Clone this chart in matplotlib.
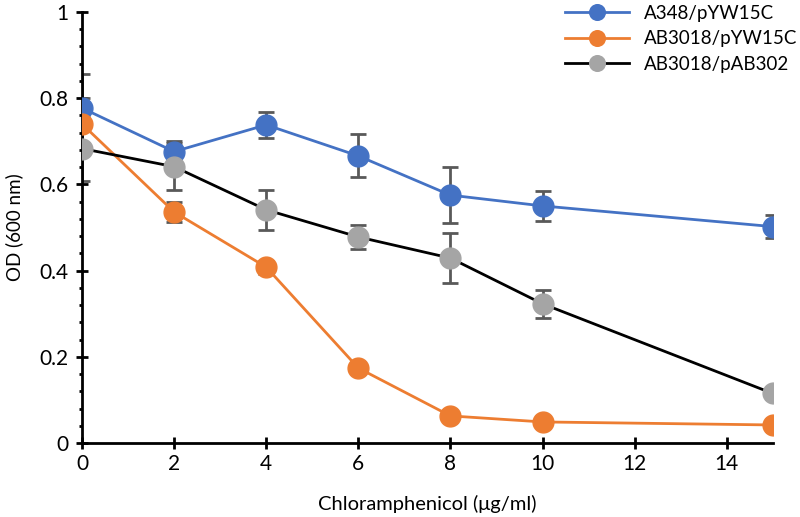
import matplotlib
matplotlib.use("Agg")
import matplotlib.pyplot as plt
import numpy as np
from matplotlib.ticker import MultipleLocator, FuncFormatter

plt.rcParams["font.family"] = ["Lato", "DejaVu Sans"]

conc = [0, 2, 4, 6, 8, 10, 15]
labels = ["A348/pYW15C", "AB3018/pYW15C", "AB3018/pAB302"]

od_a348 = [0.777, 0.676, 0.738, 0.666, 0.575, 0.550, 0.502]
err_a348 = [0.08, 0.025, 0.03, 0.05, 0.065, 0.035, 0.026]

od_ab_pyw = [0.740, 0.536, 0.408, 0.174, 0.063, 0.049, 0.042]
err_ab_pyw = [0.06, 0.023, 0.015, 0.012, 0.01, 0.012, 0.005]

od_ab_pab = [0.683, 0.641, 0.541, 0.478, 0.429, 0.323, 0.115]
err_ab_pab = [0.075, 0.055, 0.047, 0.028, 0.058, 0.032, 0.012]

fig = plt.figure(figsize=(8, 5.17), dpi=100)
ax = fig.add_axes([0.1025, 0.143, 0.8635, 0.834])

series = [
    (od_a348, err_a348, "#4472C4", "#4472C4"),
    (od_ab_pyw, err_ab_pyw, "#ED7D31", "#ED7D31"),
    (od_ab_pab, err_ab_pab, "black", "#A5A5A5"),
]

for (y, e, lc, mc), lab in zip(series, labels):
    ax.errorbar(conc, y, yerr=e, fmt="none", ecolor="#595959",
                elinewidth=2, capsize=6, capthick=2, zorder=2)
    ax.plot(conc, y, color=lc, lw=2, marker="o", markersize=15,
            markerfacecolor=mc, markeredgecolor=mc, label=lab, zorder=3)

ax.set_xlim(0, 15)
ax.set_ylim(0, 1)
ax.set_xticks([0, 2, 4, 6, 8, 10, 12, 14])
ax.yaxis.set_major_locator(MultipleLocator(0.2))
ax.yaxis.set_minor_locator(MultipleLocator(0.04))
ax.yaxis.set_major_formatter(FuncFormatter(lambda v, p: f"{v:g}"))

for s in ["top", "right"]:
    ax.spines[s].set_visible(False)
for s in ["left", "bottom"]:
    ax.spines[s].set_linewidth(2)
    ax.spines[s].set_color("black")

ax.tick_params(axis="both", which="major", direction="inout", length=9,
               width=2, labelsize=15, colors="black")
ax.tick_params(axis="y", which="major", pad=5)
ax.tick_params(axis="y", which="minor", direction="out", length=2.5,
               width=2, pad=0)

ax.set_xlabel("Chloramphenicol (μg/ml)", fontsize=14.5, labelpad=15)
ax.set_ylabel("OD (600 nm)", fontsize=13.5, labelpad=12)

ax.legend(loc="upper right", bbox_to_anchor=(1.06, 1.055), frameon=False,
          fontsize=13.5, handlelength=3.4, markerscale=0.75,
          labelspacing=0.45)

fig.savefig("out.png", dpi=100)
